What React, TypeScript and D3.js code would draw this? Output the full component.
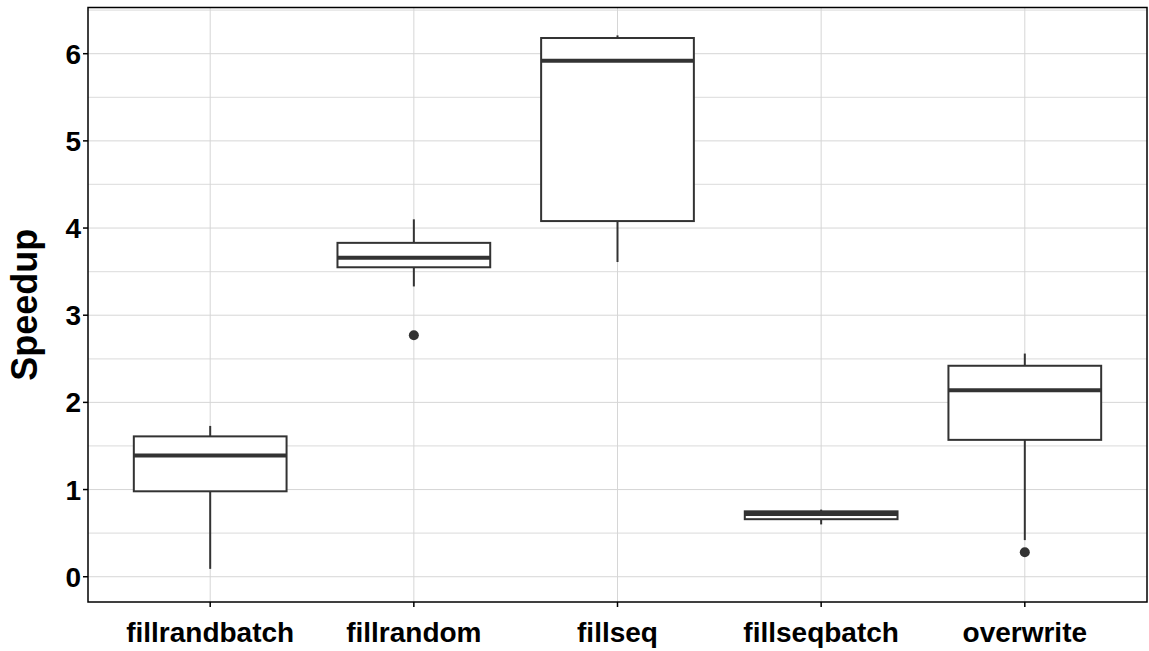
import React from 'react';
import * as d3 from 'd3';

// Benchmark speedup distributions, one box per workload
const categories = ['fillrandbatch', 'fillrandom', 'fillseq', 'fillseqbatch', 'overwrite'];
const whiskerLow = [0.09, 3.33, 3.61, 0.6, 0.42];
const q1 = [0.98, 3.55, 4.08, 0.66, 1.57];
const medians = [1.39, 3.66, 5.92, 0.72, 2.14];
const q3 = [1.61, 3.83, 6.18, 0.75, 2.42];
const whiskerHigh = [1.73, 4.1, 6.21, 0.77, 2.56];
const outlierCategories = ['fillrandom', 'overwrite'];
const outlierValues = [2.77, 0.28];
const yTicks = [0, 1, 2, 3, 4, 5, 6];
const yMinor = [0.5, 1.5, 2.5, 3.5, 4.5, 5.5, 6.5];
const yLimits = [-0.29, 6.53];

const W = 1149;
const H = 651;
const panel = { left: 88, right: 1147, top: 7.5, bottom: 602 };
const FONT = '"Liberation Sans", Arial, Helvetica, sans-serif';
const INK = '#333333';

export default function App() {
  const x = d3
    .scalePoint<string>()
    .domain(categories)
    .range([panel.left, panel.right])
    .padding(0.6);
  const y = d3.scaleLinear().domain(yLimits).range([panel.bottom, panel.top]);
  const boxW = x.step() * 0.75;

  return (
    <svg
      width={W}
      height={H}
      style={{ position: 'absolute', left: 0, top: 0, background: '#fff' }}
      fontFamily={FONT}
    >
      <rect x={0} y={0} width={W} height={H} fill="#ffffff" />
      {/* grid */}
      <g>
        {yMinor.map((v) => (
          <line
            key={'mn' + v}
            x1={panel.left}
            x2={panel.right}
            y1={y(v)}
            y2={y(v)}
            stroke="#e2e2e2"
            strokeWidth={1.3}
          />
        ))}
        {yTicks.map((v) => (
          <line
            key={'mj' + v}
            x1={panel.left}
            x2={panel.right}
            y1={y(v)}
            y2={y(v)}
            stroke="#d6d6d6"
            strokeWidth={1}
          />
        ))}
        {categories.map((c) => (
          <line
            key={'vg' + c}
            x1={x(c)}
            x2={x(c)}
            y1={panel.top}
            y2={panel.bottom}
            stroke="#d6d6d6"
            strokeWidth={1}
          />
        ))}
      </g>

      {/* boxes */}
      <g>
        {categories.map((c, i) => {
          const cx = x(c) as number;
          return (
            <g key={'box' + c}>
              <line x1={cx} x2={cx} y1={y(q3[i])} y2={y(whiskerHigh[i])} stroke={INK} strokeWidth={2} />
              <line x1={cx} x2={cx} y1={y(q1[i])} y2={y(whiskerLow[i])} stroke={INK} strokeWidth={2} />
              <rect
                x={cx - boxW / 2}
                y={y(q3[i])}
                width={boxW}
                height={y(q1[i]) - y(q3[i])}
                fill="#ffffff"
                stroke={INK}
                strokeWidth={2}
              />
              <line
                x1={cx - boxW / 2}
                x2={cx + boxW / 2}
                y1={y(medians[i])}
                y2={y(medians[i])}
                stroke={INK}
                strokeWidth={4}
              />
            </g>
          );
        })}
        {outlierValues.map((v, i) => (
          <circle key={'out' + i} cx={x(outlierCategories[i])} cy={y(v)} r={5} fill={INK} />
        ))}
      </g>

      {/* panel border */}
      <rect
        x={panel.left}
        y={panel.top}
        width={panel.right - panel.left}
        height={panel.bottom - panel.top}
        fill="none"
        stroke="#000"
        strokeWidth={1.5}
      />

      {/* y axis */}
      <g>
        {yTicks.map((v) => (
          <g key={'yt' + v}>
            <line x1={panel.left - 5} x2={panel.left} y1={y(v)} y2={y(v)} stroke="#000" strokeWidth={1.5} />
            <text
              x={panel.left - 7}
              y={y(v) + 10}
              textAnchor="end"
              fontSize={28}
              fontWeight="bold"
              fill="#000"
            >
              {v}
            </text>
          </g>
        ))}
        <text
          transform={`translate(37,${(panel.top + panel.bottom) / 2}) rotate(-90)`}
          textAnchor="middle"
          fontSize={36}
          fontWeight="bold"
          fill="#000"
        >
          Speedup
        </text>
      </g>

      {/* x axis */}
      <g>
        {categories.map((c) => (
          <g key={'xt' + c}>
            <line
              x1={x(c)}
              x2={x(c)}
              y1={panel.bottom}
              y2={panel.bottom + 5}
              stroke="#000"
              strokeWidth={1.5}
            />
            <text x={x(c)} y={642} textAnchor="middle" fontSize={28} fontWeight="bold" fill="#000">
              {c}
            </text>
          </g>
        ))}
      </g>
    </svg>
  );
}
